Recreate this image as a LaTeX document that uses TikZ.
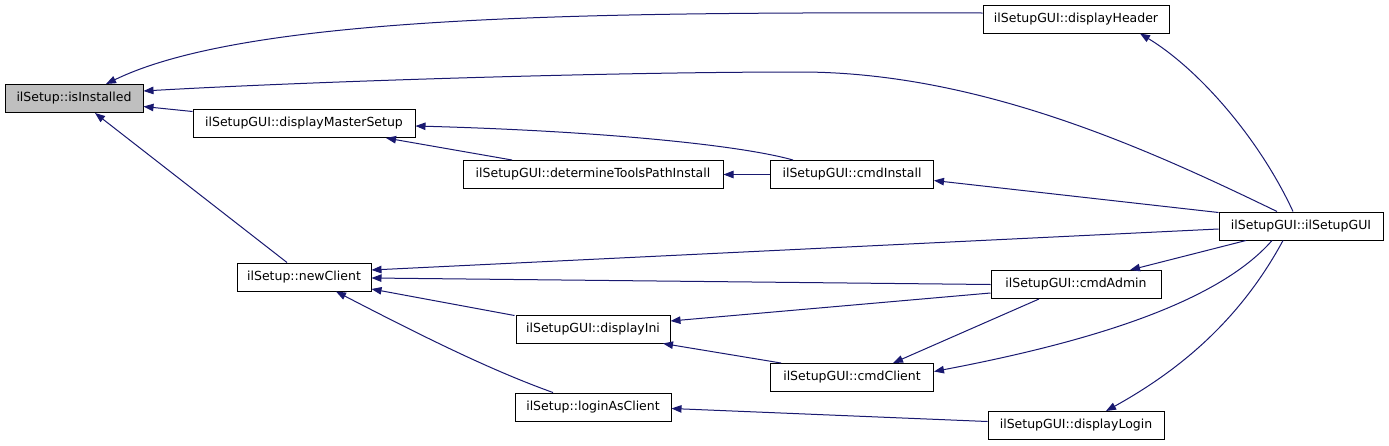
\documentclass[tikz,border=0pt]{standalone}
\usepackage{fontspec}
\setmainfont{DejaVu Sans}
\usetikzlibrary{arrows.meta}
\definecolor{edgeblue}{RGB}{25,25,112}
\definecolor{hlgray}{RGB}{191,191,191}
\tikzset{
  fn/.style={draw=black, line width=1pt, fill=white, minimum height=28pt, inner sep=0pt,
             font=\fontsize{12.5}{15}\selectfont, anchor=center},
  cur/.style={fn, fill=hlgray},
  edge/.style={draw=edgeblue, line width=1pt, -{Triangle[length=10pt,width=7.5pt]}}
}
\begin{document}
\begin{tikzpicture}[x=1pt,y=-1pt]
\useasboundingbox[fill=white] (0,0) rectangle (1389,445);
% nodes
\node[cur, minimum width=138pt] (inst) at (74,98.5) {ilSetup::isInstalled};
\node[fn, minimum width=186pt] (dh) at (1076,19) {ilSetupGUI::displayHeader};
\node[fn, minimum width=222pt] (dms) at (304,123.5) {ilSetupGUI::displayMasterSetup};
\node[fn, minimum width=260pt] (dtp) at (593,174.5) {ilSetupGUI::determineToolsPathInstall};
\node[fn, minimum width=163pt] (ci) at (852,174.5) {ilSetupGUI::cmdInstall};
\node[fn, minimum width=164pt] (gui) at (1301,226) {ilSetupGUI::ilSetupGUI};
\node[fn, minimum width=134pt] (nc) at (304,277) {ilSetup::newClient};
\node[fn, minimum width=170pt] (ca) at (1076,284.5) {ilSetupGUI::cmdAdmin};
\node[fn, minimum width=154pt] (di) at (593,329) {ilSetupGUI::displayIni};
\node[fn, minimum width=163pt] (cc) at (852,377.5) {ilSetupGUI::cmdClient};
\node[fn, minimum width=156pt] (lac) at (593,407) {ilSetup::loginAsClient};
\node[fn, minimum width=176pt] (dl) at (1076,425.5) {ilSetupGUI::displayLogin};
% edges
\draw[edge] ([yshift=6pt]dh.west) .. controls (600,12) and (250,14) .. ([xshift=32pt]inst.north);
\draw[edge] ([xshift=-24pt]gui.north) .. controls (1150,150) and (980,72) .. (800,72)
            .. controls (600,72) and (300,82) .. ([yshift=7.5pt]inst.east);
\draw[edge] ([yshift=12pt]dms.west) -- ([yshift=-8pt]inst.east);
\draw[edge] ([xshift=-17pt]nc.north) -- ([xshift=21pt]inst.south);
\draw[edge] ([xshift=-59pt]ci.north) .. controls (740,145) and (600,131) .. ([yshift=-2.5pt]dms.east);
\draw[edge] ([xshift=-81pt]dtp.north) -- ([xshift=82pt]dms.south);
\draw[edge] (ci.west) -- (dtp.east);
\draw[edge] ([yshift=-1pt]gui.north west) -- ([yshift=-6pt]ci.east);
\draw[edge] ([xshift=-8pt]gui.north) .. controls (1260,140) and (1200,70) .. ([xshift=64pt]dh.south);
\draw[edge] ([yshift=-3pt]gui.west) -- ([yshift=7pt]nc.east);
\draw[edge] (ca.west) -- ([yshift=-1pt]nc.east);
\draw[edge] ([xshift=-1pt,yshift=-1pt]di.north west) -- ([yshift=-12pt]nc.east);
\draw[edge] ([xshift=-40pt]lac.north) .. controls (490,370) and (420,335) .. ([xshift=32pt]nc.south);
\draw[edge] ([xshift=-55pt]gui.south) -- ([xshift=54pt]ca.north);
\draw[edge] ([yshift=-8.5pt]ca.west) -- ([yshift=8pt]di.east);
\draw[edge] ([xshift=-71pt]cc.north) -- ([xshift=70pt]di.south);
\draw[edge] ([xshift=-37pt]ca.south) -- ([xshift=41pt]cc.north);
\draw[edge] ([xshift=-29pt]gui.south) .. controls (1220,300) and (1100,340) .. ([yshift=6pt]cc.east);
\draw[edge] ([xshift=-18pt]gui.south) .. controls (1240,320) and (1180,370) .. ([xshift=30pt]dl.north);
\draw[edge] ([yshift=4pt]dl.west) -- ([yshift=-1.5pt]lac.east);
\end{tikzpicture}
\end{document}
